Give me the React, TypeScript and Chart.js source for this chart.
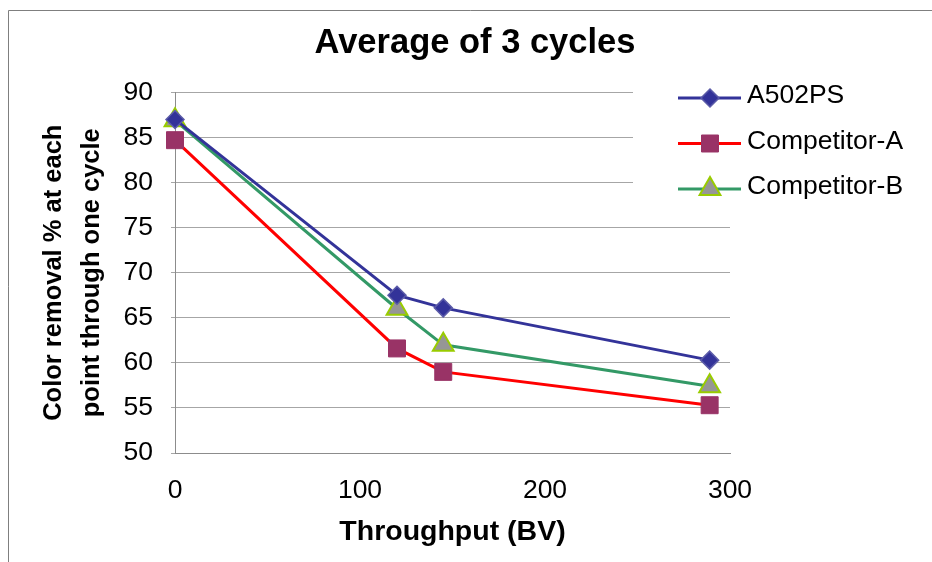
import React, { useEffect, useRef } from 'react';
import { Chart, registerables } from 'chart.js';
import { drawPoint } from 'chart.js/helpers';

Chart.register(...registerables);

// ---- data ----
const throughputBV = [0, 120, 145, 289];
const seriesNames = ['A502PS', 'Competitor-A', 'Competitor-B'];
const a502ps = [87.0, 67.5, 66.1, 60.3];
const competitorA = [84.7, 61.6, 59.0, 55.3];
const competitorB = [86.9, 66.0, 62.0, 57.4];
const chartTitle = 'Average of 3 cycles';
const xAxisTitle = 'Throughput (BV)';
const yAxisTitle = ['Color removal % at each', 'point through one cycle'];
const xRange = [0, 300];
const yRange = [50, 90];

const FONT = '"Liberation Sans", Arial, Helvetica, sans-serif';

const styles = [
  { line: '#333399', fill: '#333399', border: '#5b5ba8', pointStyle: 'rectRot', radius: 9, borderWidth: 1.5 },
  { line: '#FF0000', fill: '#993366', border: '#993366', pointStyle: 'rect', radius: 12, borderWidth: 1 },
  { line: '#339966', fill: '#969696', border: '#99CC00', pointStyle: 'triangle', radius: 12, borderWidth: 2 },
];

const frameAndLegend = {
  id: 'frameAndLegend',
  beforeDraw(chart: any) {
    const ctx = chart.ctx;
    ctx.save();
    ctx.fillStyle = '#ffffff';
    ctx.fillRect(0, 0, chart.width, chart.height);
    ctx.strokeStyle = '#7f7f7f';
    ctx.lineWidth = 1;
    ctx.beginPath();
    ctx.moveTo(8.5, chart.height);
    ctx.lineTo(8.5, 10.5);
    ctx.lineTo(chart.width, 10.5);
    ctx.stroke();
    ctx.restore();
  },
  afterDatasetsDraw(chart: any) {
    const ctx = chart.ctx;
    ctx.save();
    ctx.fillStyle = '#ffffff';
    ctx.fillRect(633, 72, chart.width - 633, 133);
    chart.data.datasets.forEach((ds: any, i: number) => {
      const st = styles[i];
      const y = 98 + i * 45.5;
      ctx.strokeStyle = st.line;
      ctx.lineWidth = 3;
      ctx.beginPath();
      ctx.moveTo(678, y);
      ctx.lineTo(741, y);
      ctx.stroke();
      ctx.fillStyle = st.fill;
      ctx.strokeStyle = st.border;
      ctx.lineWidth = st.borderWidth;
      drawPoint(ctx, { pointStyle: st.pointStyle as any, radius: st.radius, rotation: 0, borderWidth: st.borderWidth }, 710, y);
      ctx.fillStyle = '#000000';
      ctx.font = `26.5px ${FONT}`;
      ctx.textAlign = 'left';
      ctx.textBaseline = 'middle';
      ctx.fillText(ds.label, 747, y - 2);
    });
    ctx.restore();
  },
};

export default function App() {
  const ref = useRef<HTMLCanvasElement | null>(null);

  useEffect(() => {
    document.body.style.margin = '0';
    document.body.style.overflow = 'hidden';
    const canvas = ref.current;
    if (!canvas) return;
    const seriesValues = [a502ps, competitorA, competitorB];
    const chart = new Chart(canvas, {
      type: 'scatter',
      data: {
        datasets: seriesValues.map((vals, i) => ({
          label: seriesNames[i],
          data: throughputBV.map((x, j) => ({ x, y: vals[j] })),
          showLine: true,
          borderColor: styles[i].line,
          borderWidth: 3,
          pointStyle: styles[i].pointStyle as any,
          pointRadius: styles[i].radius,
          pointHoverRadius: styles[i].radius,
          pointBackgroundColor: styles[i].fill,
          pointBorderColor: styles[i].border,
          pointBorderWidth: styles[i].borderWidth,
          clip: false as any,
        })),
      },
      options: {
        responsive: false,
        animation: false,
        events: [],
        layout: { padding: { left: 18, right: 0, top: 0, bottom: 0 } },
        plugins: {
          legend: { display: false },
          tooltip: { enabled: false },
          title: {
            display: true,
            text: chartTitle,
            color: '#000',
            font: { family: FONT, size: 34.5, weight: 'bold', lineHeight: 1.2 },
            padding: { top: 23, bottom: 28 },
          },
        },
        scales: {
          x: {
            type: 'linear',
            min: xRange[0],
            max: xRange[1],
            grid: { display: false, drawTicks: false },
            border: { display: true, color: '#8c8c8c', width: 1 },
            ticks: {
              stepSize: 100,
              color: '#000',
              padding: 22,
              font: { family: FONT, size: 26.5, lineHeight: 1.2 },
            },
            title: {
              display: true,
              text: xAxisTitle,
              color: '#000',
              font: { family: FONT, size: 28.5, weight: 'bold', lineHeight: 1.2 },
              padding: { top: 0, bottom: 13 },
            },
            afterFit: (s: any) => { s.height = 109; },
          },
          y: {
            type: 'linear',
            min: yRange[0],
            max: yRange[1],
            grid: { color: '#a6a6a6', lineWidth: 1, drawTicks: true, tickLength: 4 },
            border: { display: true, color: '#8c8c8c', width: 1 },
            ticks: {
              stepSize: 5,
              color: '#000',
              padding: 18,
              font: { family: FONT, size: 26.5, lineHeight: 1.2 },
            },
            title: {
              display: true,
              text: yAxisTitle,
              color: '#000',
              font: { family: FONT, size: 25.5, weight: 'bold', lineHeight: 1.5 },
              padding: { top: 17, bottom: 0 },
            },
            afterFit: (s: any) => { s.width = 157; },
          },
          spacer: {
            type: 'linear',
            position: 'right',
            display: true,
            grid: { display: false },
            border: { display: false },
            ticks: { display: false },
            afterFit: (s: any) => { s.width = 202; },
          },
        },
      },
      plugins: [frameAndLegend],
    });
    return () => chart.destroy();
  }, []);

  return (
    <div style={{ width: 932, height: 562 }}>
      <canvas ref={ref} width={932} height={562} style={{ display: 'block' }} />
    </div>
  );
}
